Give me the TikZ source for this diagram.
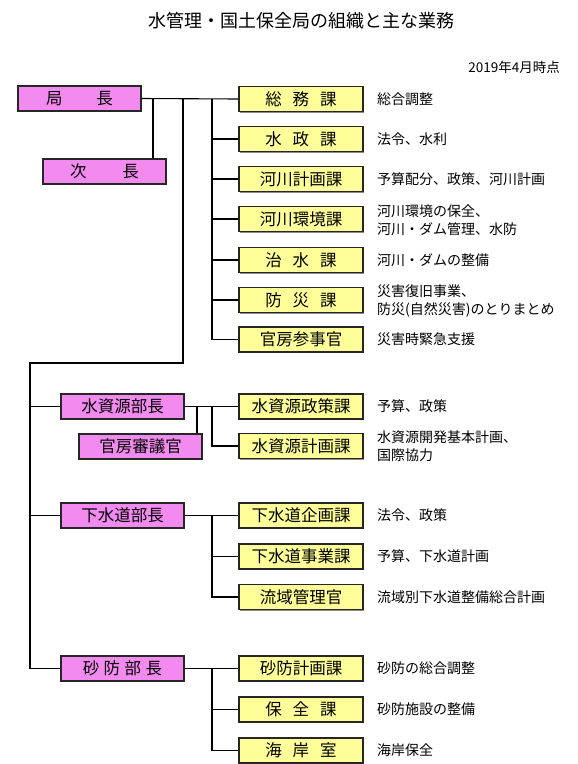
\documentclass[tikz,border=0pt]{standalone}
\usepackage{fontspec}
\setmainfont{Noto Sans CJK JP}
\usetikzlibrary{shadows}
\definecolor{pinkfill}{HTML}{F38AF0}
\definecolor{yelfill}{HTML}{FFFF99}
\tikzset{
  basebox/.style={draw=black!85, line width=1.1pt, minimum height=25pt, inner sep=0pt,
    font=\fontsize{16.5}{18}\selectfont,
    drop shadow={shadow xshift=1.3pt, shadow yshift=-1.3pt, fill=black!45, opacity=1}},
  pinkbox/.style={basebox, fill=pinkfill, minimum width=123pt},
  yelbox/.style={basebox, fill=yelfill, minimum width=124pt},
  desc/.style={anchor=west, inner sep=0pt, align=left, font=\fontsize{14}{18}\selectfont},
  conn/.style={line width=1.1pt, black}
}
\begin{document}
\begin{tikzpicture}[x=1pt,y=-1pt]
\useasboundingbox[fill=white] (0,0) rectangle (578,764);
% title
\node[inner sep=0pt, font=\fontsize{18}{20}\selectfont] (title) at (301,21) {水管理・国土保全局の組織と主な業務};
\node[inner sep=0pt, anchor=east, font=\fontsize{13.5}{16}\selectfont] (date) at (560,67) {2019年4月時点};
% pink boxes
\node[pinkbox] (kyoku) at (79.5,98.5) {局\hspace{34pt}長};
\node[pinkbox] (jicho) at (104.5,171.5) {次\hspace{36pt}長};
\node[pinkbox] (suibu) at (122.5,406.5) {水資源部長};
\node[pinkbox] (shingi) at (140.5,446.5) {官房審議官};
\node[pinkbox] (gebu) at (122.5,515.5) {下水道部長};
\node[pinkbox] (sabobu) at (122.5,668.5) {砂\hspace{4.5pt}防\hspace{4.5pt}部\hspace{4.5pt}長};
% yellow boxes
\node[yelbox] (somu) at (301,99) {総\hspace{11pt}務\hspace{11pt}課};
\node[yelbox] (suisei) at (301,139) {水\hspace{11pt}政\hspace{11pt}課};
\node[yelbox] (kasenkei) at (301,179) {河川計画課};
\node[yelbox] (kasenkan) at (301,219) {河川環境課};
\node[yelbox] (chisui) at (301,260) {治\hspace{11pt}水\hspace{11pt}課};
\node[yelbox] (bosai) at (301,300) {防\hspace{11pt}災\hspace{11pt}課};
\node[yelbox] (sanji) at (301,339.5) {官房参事官};
\node[yelbox] (suiseisaku) at (301,406.5) {水資源政策課};
\node[yelbox] (suikeikaku) at (301,446) {水資源計画課};
\node[yelbox] (gekikaku) at (301,515.5) {下水道企画課};
\node[yelbox] (gejigyo) at (301,556.5) {下水道事業課};
\node[yelbox] (ryuiki) at (301,597) {流域管理官};
\node[yelbox] (sabokei) at (301,668.5) {砂防計画課};
\node[yelbox] (hozen) at (301,709.5) {保\hspace{11pt}全\hspace{11pt}課};
\node[yelbox] (kaigan) at (301,750.5) {海\hspace{11pt}岸\hspace{11pt}室};
% descriptions
\node[desc] (d1) at (377,99) {総合調整};
\node[desc] (d2) at (377,139) {法令、水利};
\node[desc] (d3) at (377,179) {予算配分、政策、河川計画};
\node[desc] (d4) at (377,220) {河川環境の保全、\\河川・ダム管理、水防};
\node[desc] (d5) at (377,260) {河川・ダムの整備};
\node[desc] (d6) at (377,300.5) {災害復旧事業、\\防災(自然災害)のとりまとめ};
\node[desc] (d7) at (377,339.5) {災害時緊急支援};
\node[desc] (d8) at (377,406.5) {予算、政策};
\node[desc] (d9) at (377,446.5) {水資源開発基本計画、\\国際協力};
\node[desc] (d10) at (377,515.5) {法令、政策};
\node[desc] (d11) at (377,556.5) {予算、下水道計画};
\node[desc] (d12) at (377,597) {流域別下水道整備総合計画};
\node[desc] (d13) at (377,668.5) {砂防の総合調整};
\node[desc] (d14) at (377,709.5) {砂防施設の整備};
\node[desc] (d15) at (377,750.5) {海岸保全};
% junction coordinates
\coordinate (xa) at (153,0);
\coordinate (xb) at (183,0);
\coordinate (xc) at (212,0);
\coordinate (xd) at (197,0);
\coordinate (xl) at (30,0);
\coordinate (bend) at (183,363);
\coordinate (bendl) at (30,363);
% connectors: top
\draw[conn] (kyoku.east) -- (somu.west);
\draw[conn] (xa |- jicho.north) -- (xa |- kyoku.east);
\draw[conn] (xb |- kyoku.east) -- (bend) -- (bendl) -- (xl |- sabobu.west) -- (sabobu.west);
\draw[conn] (xc |- somu.west) |- (sanji.west);
\foreach \n in {suisei,kasenkei,kasenkan,chisui,bosai}
  \draw[conn] (xc |- \n.west) -- (\n.west);
\draw[conn] (xl |- suibu.west) -- (suibu.west);
\draw[conn] (xl |- gebu.west) -- (gebu.west);
% water resources
\draw[conn] (suibu.east) -- (suiseisaku.west);
\draw[conn] (shingi.north -| xd) -- (xd |- suibu.east);
\draw[conn] (xc |- suibu.east) |- (suikeikaku.west);
% sewer
\draw[conn] (gebu.east) -- (gekikaku.west);
\draw[conn] (xc |- gebu.east) |- (ryuiki.west);
\draw[conn] (xc |- gejigyo.west) -- (gejigyo.west);
% sabo
\draw[conn] (sabobu.east) -- (sabokei.west);
\draw[conn] (xc |- sabobu.east) |- (kaigan.west);
\draw[conn] (xc |- hozen.west) -- (hozen.west);
\end{tikzpicture}
\end{document}
